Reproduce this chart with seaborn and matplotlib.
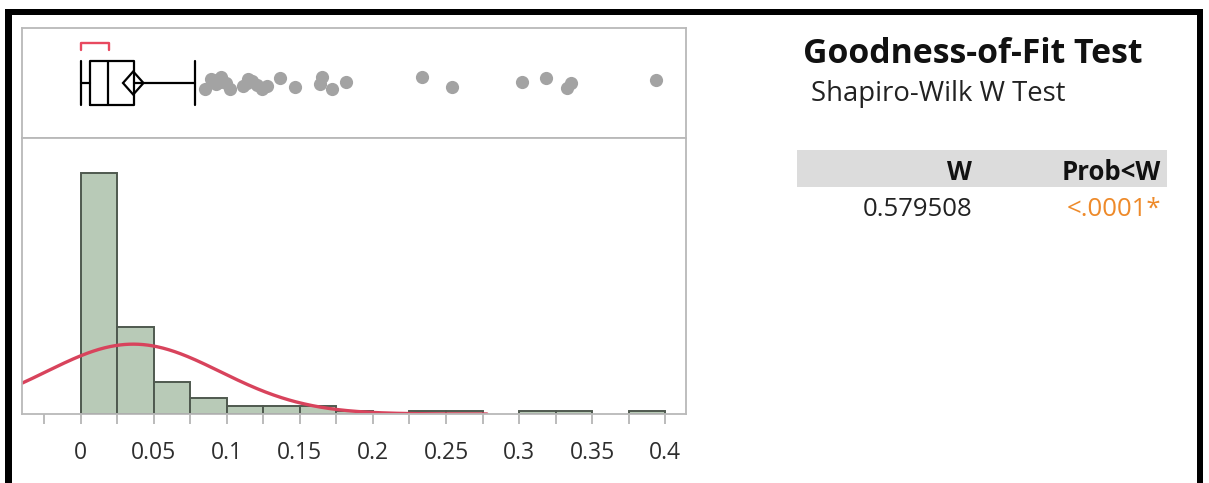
import numpy as np
import matplotlib
matplotlib.use("Agg")
import matplotlib.pyplot as plt
from matplotlib.patches import Rectangle, Polygon
from matplotlib.ticker import FixedLocator
import seaborn as sns

# ---- distribution data -------------------------------------------------
bin_width = 0.025
bin_lower = [0.0, 0.025, 0.05, 0.075, 0.1, 0.125, 0.15, 0.175,
             0.2, 0.225, 0.25, 0.275, 0.3, 0.325, 0.35, 0.375]
bin_counts = [89, 32, 12, 6, 3, 3, 3, 1, 0, 1, 1, 0, 1, 1, 0, 1]

# quantile box summary
box_min = 0.0
box_q1 = 0.0067
box_median = 0.0188
box_q3 = 0.0366
box_whisker_hi = 0.078
mean_value = 0.036
mean_ci = (0.0290, 0.0430)
shortest_half = (0.0, 0.0193)

# points beyond the upper whisker
outliers = [0.0848, 0.0894, 0.0929, 0.0906, 0.0963, 0.0952, 0.0998, 0.1021,
            0.1112, 0.1136, 0.1170, 0.1147, 0.1205, 0.1239, 0.1274,
            0.1366, 0.1469, 0.1641, 0.1653, 0.1722, 0.1814,
            0.2336, 0.2538, 0.3021, 0.3186, 0.3329, 0.3352, 0.3940]

# fitted normal
normal_mu = 0.036
normal_sigma = 0.0595

tick_values = [0.0, 0.05, 0.1, 0.15, 0.2, 0.25, 0.3, 0.35, 0.4]
tick_labels = ["0", "0.05", "0.1", "0.15", "0.2", "0.25", "0.3", "0.35", "0.4"]
minor_values = [-0.025, 0.025, 0.075, 0.125, 0.175, 0.225, 0.275, 0.325, 0.375]

title = "Goodness-of-Fit Test"
subtitle = "Shapiro-Wilk W Test"
col_headers = ["W", "Prob<W"]
w_value = "0.579508"
p_value = "<.0001*"

# ---- styling -----------------------------------------------------------
sns.set_style("white")
plt.rcParams["font.family"] = ["Open Sans", "DejaVu Sans"]

W, H = 1209, 483
fig = plt.figure(figsize=(W / 100, H / 100), dpi=100)
fig.patch.set_facecolor("white")


def fx(px):
    return px / W


def fy(py):
    return 1 - py / H


frame_l, frame_r = 22, 686
ax_box = fig.add_axes([fx(frame_l), fy(138), (frame_r - frame_l) / W, (138 - 28) / H])
ax_hist = fig.add_axes([fx(frame_l), fy(414), (frame_r - frame_l) / W, (414 - 138) / H])

xlim = (-0.0401, 0.4142)
spine_col = "#b9b9b9"
for ax in (ax_box, ax_hist):
    ax.set_xlim(*xlim)
    for s in ax.spines.values():
        s.set_color(spine_col)
        s.set_linewidth(1.3)

# ---- histogram + normal curve -----------------------------------------
edges = list(bin_lower) + [bin_lower[-1] + bin_width]
centers = [b + bin_width / 2 for b in bin_lower]
sns.histplot(x=centers, weights=bin_counts, bins=edges, ax=ax_hist,
             color="#b8cab7", edgecolor="#4f594f", linewidth=1.4, alpha=1.0)
for p in ax_hist.patches:
    if p.get_height() == 0:
        p.set_visible(False)

n_total = sum(bin_counts)
xs = np.linspace(xlim[0], 0.278, 400)
ys = n_total * bin_width * np.exp(-0.5 * ((xs - normal_mu) / normal_sigma) ** 2) / (
    normal_sigma * np.sqrt(2 * np.pi))
sns.lineplot(x=xs, y=ys, ax=ax_hist, color="#d8435c", linewidth=2.4)

ax_hist.set_ylim(0, 102)
ax_hist.set_xlim(*xlim)
ax_hist.set_yticks([])
ax_hist.set_xlabel("")
ax_hist.set_ylabel("")
ax_hist.xaxis.set_major_locator(FixedLocator(tick_values))
ax_hist.set_xticklabels(tick_labels)
ax_hist.xaxis.set_minor_locator(FixedLocator(minor_values))
ax_hist.tick_params(axis="x", which="both", direction="out", length=7.5,
                    width=1.1, color="#a8a8a8", pad=12, bottom=True)
ax_hist.tick_params(axis="x", which="major", labelsize=16.5, labelcolor="#2e2e2e")

# ---- outlier box plot --------------------------------------------------
np.random.seed(7)
sns.stripplot(x=outliers, ax=ax_box, color="#a3a3a3", size=9.5, jitter=0.12,
              linewidth=0, zorder=3)

stats = [dict(med=box_median, q1=box_q1, q3=box_q3, whislo=box_min,
              whishi=box_whisker_hi, fliers=[])]
line = dict(color="black", linewidth=1.6)
bkw = dict(positions=[0], widths=0.8, showfliers=False, capwidths=0.8,
           boxprops=line, whiskerprops=line, capprops=line,
           medianprops=line, manage_ticks=False)
try:
    ax_box.bxp(stats, orientation="horizontal", **bkw)
except TypeError:
    ax_box.bxp(stats, vert=False, **bkw)

diamond_h = 0.21
ax_box.add_patch(Polygon([(mean_ci[0], 0), (mean_value, diamond_h),
                          (mean_ci[1], 0), (mean_value, -diamond_h)],
                         closed=True, fill=False, edgecolor="black", linewidth=1.6))
ax_box.plot([shortest_half[0], shortest_half[0], shortest_half[1], shortest_half[1]],
            [0.6, 0.735, 0.735, 0.6], color="#e8495f", linewidth=1.7,
            solid_joinstyle="round")

ax_box.set_ylim(-1, 1)
ax_box.set_xlim(*xlim)
ax_box.set_xticks([])
ax_box.set_yticks([])
ax_box.set_xlabel("")
ax_box.set_ylabel("")

# ---- test results panel ------------------------------------------------
fig.text(fx(803), fy(63), title, fontsize=24.3, fontweight="bold",
         color="#111111", va="baseline", ha="left")
fig.text(fx(811), fy(101), subtitle, fontsize=19.8, color="#222222",
         va="baseline", ha="left")
fig.add_artist(Rectangle((fx(797), fy(187)), (1167 - 797) / W, (187 - 150) / H,
                         transform=fig.transFigure, facecolor="#dcdcdc",
                         edgecolor="none"))
fig.text(fx(972), fy(180), col_headers[0], fontsize=18.5, fontweight="bold",
         color="#111111", va="baseline", ha="right")
fig.text(fx(1161), fy(180), col_headers[1], fontsize=18.5, fontweight="bold",
         color="#111111", va="baseline", ha="right")
fig.text(fx(972), fy(216), w_value, fontsize=18.5, color="#222222",
         va="baseline", ha="right")
fig.text(fx(1161), fy(216), p_value, fontsize=18.5, color="#ee8a2a",
         va="baseline", ha="right")

# ---- outer black border ------------------------------------------------
for (x0, y0, x1, y1) in [(5, 9, 1203, 15), (5, 9, 12, 483), (1197, 9, 1203, 483)]:
    fig.add_artist(Rectangle((fx(x0), fy(y1)), (x1 - x0) / W, (y1 - y0) / H,
                             transform=fig.transFigure, facecolor="black",
                             edgecolor="none"))

fig.savefig("out.png", dpi=100)
